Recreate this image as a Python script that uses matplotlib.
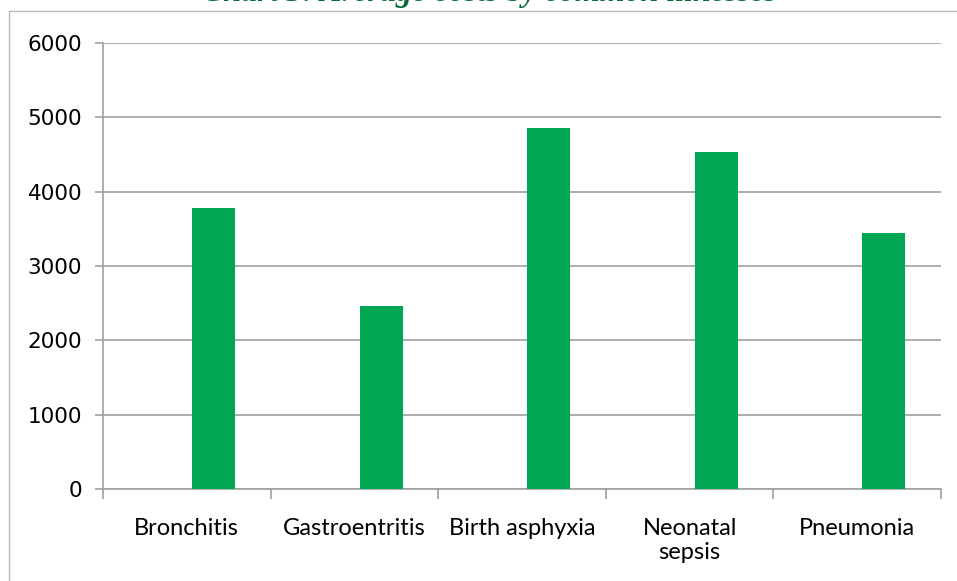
import matplotlib
matplotlib.use("Agg")
import matplotlib.pyplot as plt
from matplotlib.patches import Rectangle

# ── data ──────────────────────────────────────────────────────────────────────
CATEGORIES = ["Bronchitis", "Gastroentritis", "Birth asphyxia", "Neonatal\nsepsis", "Pneumonia"]
COSTS = [3780, 2460, 4850, 4530, 3440]
Y_TICKS = [0, 1000, 2000, 3000, 4000, 5000, 6000]

TITLE = "Chart 3: Average costs by common illnesses"
BAR_COLOR = "#00A651"
GRID_COLOR = "#A0A0A0"

fig = plt.figure(figsize=(9.57, 5.81), dpi=100)
ax = fig.add_axes([103 / 957, 92 / 581, 838 / 957, 446 / 581])

# chart frame (only top and left edges fall inside the picture)
fig.patches.append(Rectangle((9 / 957, -0.2), 1.2, 1.2 - 11 / 581,
                             transform=fig.transFigure, fill=False,
                             edgecolor="#BBBBBB", linewidth=1.0))

# second (empty) series pushes the visible bar right of the category centre
x = list(range(len(CATEGORIES)))
ax.bar([i + 0.159 for i in x], COSTS, width=0.257, color=BAR_COLOR, zorder=3)

ax.set_xlim(-0.5, len(CATEGORIES) - 0.5)
ax.set_ylim(0, 6000)
ax.set_yticks(Y_TICKS)
ax.set_yticklabels([str(v) for v in Y_TICKS], fontsize=15.5, family="DejaVu Sans")
ax.yaxis.grid(True, color=GRID_COLOR, linewidth=1.2, zorder=0)

ax.set_xticks([i - 0.5 for i in range(len(CATEGORIES) + 1)])
ax.set_xticklabels([])
ax.set_xticks(x, minor=True)
ax.set_xticklabels(CATEGORIES, minor=True, fontsize=17, family="Lato",
                   linespacing=1.15, va="top")
ax.tick_params(axis="x", which="minor", length=0, pad=21)
ax.tick_params(axis="x", which="major", length=7, width=1.2, color=GRID_COLOR)
ax.tick_params(axis="y", length=6, width=1.2, color=GRID_COLOR, pad=9)

for side in ("top", "right"):
    ax.spines[side].set_visible(False)
for side in ("left", "bottom"):
    ax.spines[side].set_color(GRID_COLOR)
    ax.spines[side].set_linewidth(1.2)

# title sits mostly above the picture's top edge, as in the source crop
fig.text(0.5115, 1.0 - 0.5 / 581, TITLE, ha="center", va="baseline",
         fontsize=23, fontweight="bold", fontstyle="italic",
         family="Liberation Serif", color="#0B6B35")

fig.savefig("out.png", dpi=100)
